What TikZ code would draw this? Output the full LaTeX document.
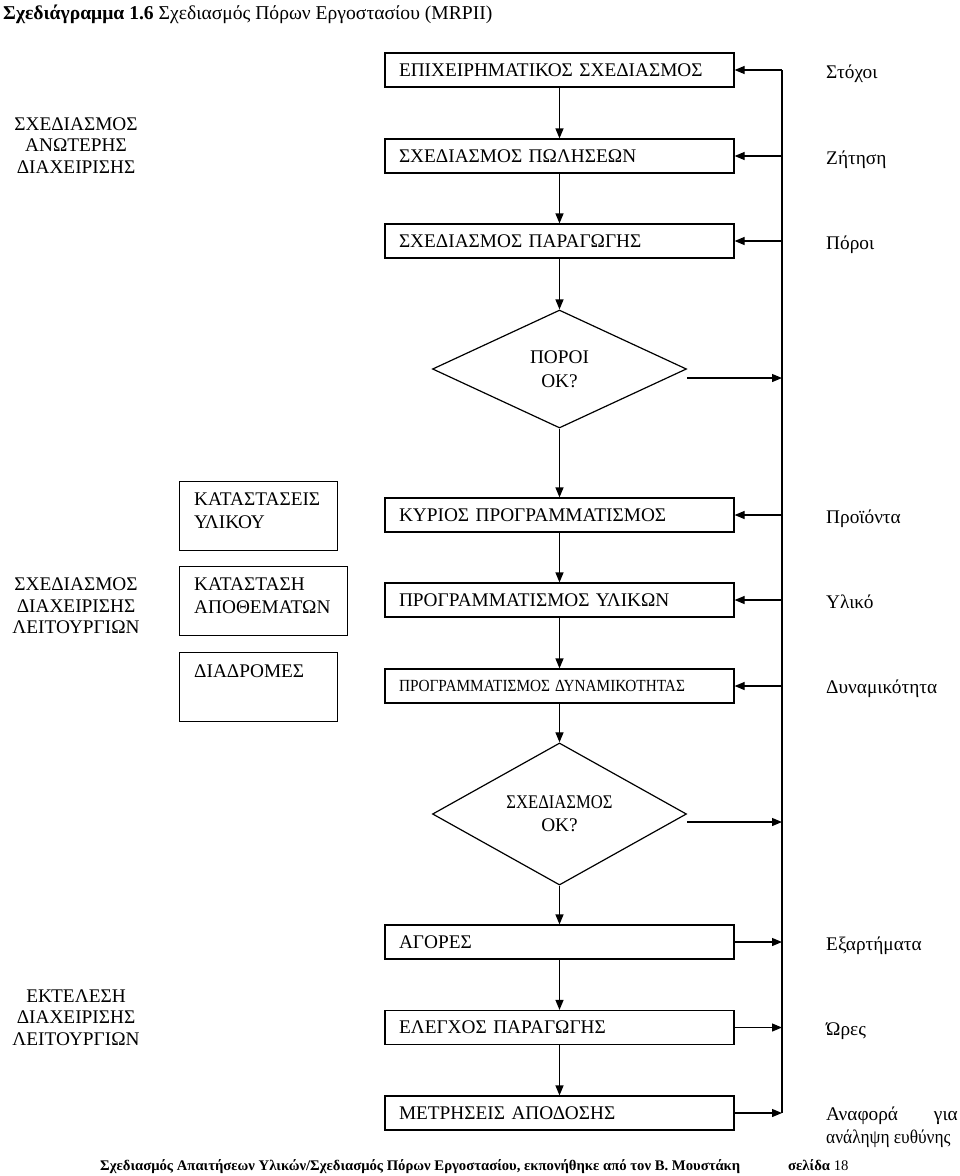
\documentclass[tikz,border=0pt]{standalone}
\usepackage{fontspec}
\usepackage{graphicx}
\setmainfont{Liberation Serif}
\usetikzlibrary{shapes.geometric,arrows.meta}
\tikzset{
 mainbox/.style={draw, line width=1.2pt, text width=321pt, inner xsep=14pt, inner ysep=0pt, minimum height=34pt, align=left, font=\fontsize{19.3}{22}\selectfont},
 sidebox/.style={draw, line width=1.2pt, minimum height=68.5pt, inner sep=0pt, anchor=north west},
 sidetext/.style={anchor=north west, align=left, inner sep=0pt, font=\fontsize{19.3}{23}\selectfont},
 decision/.style={draw, diamond, line width=1.2pt, minimum width=254pt, minimum height=118pt, inner sep=0pt, align=center, font=\fontsize{19.3}{24}\selectfont},
 lvl/.style={align=center, inner sep=0pt, font=\fontsize{19.3}{21.5}\selectfont},
 rlab/.style={anchor=base west, inner sep=0pt, font=\fontsize{19.3}{22}\selectfont},
 arr/.style={line width=1.2pt, -{Triangle[length=10pt,width=8pt]}},
 link/.style={line width=1.2pt},
}
\begin{document}
\begin{tikzpicture}[x=1pt,y=-1pt]
\useasboundingbox (0,0) rectangle (960,1176);

% title
\node[anchor=base west, inner sep=0pt, font=\fontsize{19.6}{22}\selectfont] (title) at (3,19)
  {\textbf{Σχεδιάγραμμα 1.6} Σχεδιασμός Πόρων Εργοστασίου (MRPII)};

% main column
\node[mainbox] (b1) at (559.5,70) {ΕΠΙΧΕΙΡΗΜΑΤΙΚΟΣ ΣΧΕΔΙΑΣΜΟΣ};
\node[mainbox] (b2) at (559.5,156) {ΣΧΕΔΙΑΣΜΟΣ ΠΩΛΗΣΕΩΝ};
\node[mainbox] (b3) at (559.5,241) {ΣΧΕΔΙΑΣΜΟΣ ΠΑΡΑΓΩΓΗΣ};
\node[decision] (d1) at (559.5,369) {ΠΟΡΟΙ\\ΟΚ?};
\node[mainbox] (k1) at (559.5,515) {ΚΥΡΙΟΣ ΠΡΟΓΡΑΜΜΑΤΙΣΜΟΣ};
\node[mainbox] (k2) at (559.5,600) {ΠΡΟΓΡΑΜΜΑΤΙΣΜΟΣ ΥΛΙΚΩΝ};
\node[mainbox, font=\fontsize{17}{20}\selectfont] (k3) at (559.5,686) {\scalebox{0.9}[1]{ΠΡΟΓΡΑΜΜΑΤΙΣΜΟΣ ΔΥΝΑΜΙΚΟΤΗΤΑΣ}};
\node[decision] (d2) at (559.5,814) {\scalebox{0.86}[1]{ΣΧΕΔΙΑΣΜΟΣ}\\[-1pt]ΟΚ?};
\node[mainbox] (a1) at (559.5,942) {ΑΓΟΡΕΣ};
\node[mainbox] (a2) at (559.5,1027.5) {ΕΛΕΓΧΟΣ ΠΑΡΑΓΩΓΗΣ};
\node[mainbox] (a3) at (559.5,1113) {ΜΕΤΡΗΣΕΙΣ ΑΠΟΔΟΣΗΣ};

% side boxes
\node[sidebox, minimum width=158pt] (s1) at (179,481) {};
\node[sidetext] (s1t) at (194,493) {ΚΑΤΑΣΤΑΣΕΙΣ\\ΥΛΙΚΟΥ};
\node[sidebox, minimum width=168pt] (s2) at (179,566) {};
\node[sidetext] (s2t) at (194,578) {ΚΑΤΑΣΤΑΣΗ\\ΑΠΟΘΕΜΑΤΩΝ};
\node[sidebox, minimum width=158pt] (s3) at (179,652) {};
\node[sidetext] (s3t) at (194,664.5) {ΔΙΑΔΡΟΜΕΣ};

% left level labels
\node[lvl] (l1) at (76,145.5) {ΣΧΕΔΙΑΣΜΟΣ\\ΑΝΩΤΕΡΗΣ\\ΔΙΑΧΕΙΡΙΣΗΣ};
\node[lvl] (l2) at (76,606) {ΣΧΕΔΙΑΣΜΟΣ\\ΔΙΑΧΕΙΡΙΣΗΣ\\ΛΕΙΤΟΥΡΓΙΩΝ};
\node[lvl] (l3) at (76,1017.5) {ΕΚΤΕΛΕΣΗ\\ΔΙΑΧΕΙΡΙΣΗΣ\\ΛΕΙΤΟΥΡΓΙΩΝ};

% right labels
\node[rlab] (r1) at (826,78) {Στόχοι};
\node[rlab] (r2) at (826,164) {Ζήτηση};
\node[rlab] (r3) at (826,249) {Πόροι};
\node[rlab] (r4) at (826,523) {Προϊόντα};
\node[rlab] (r5) at (826,608) {Υλικό};
\node[rlab] (r6) at (826,693) {Δυναμικότητα};
\node[rlab] (r7) at (826,950) {Εξαρτήματα};
\node[rlab] (r8) at (826,1035) {Ώρες};
\node[rlab] (r9a) at (826,1120) {Αναφορά};
\node[rlab, anchor=base east] (r9b) at (958,1120) {για};
\node[rlab] (r9c) at (826,1143) {\scalebox{0.9}[1]{ανάληψη ευθύνης}};

% feedback bus
\coordinate (bustop) at (782,70);
\coordinate (busbot) at (782,1113);
\draw[link] (bustop) -- (busbot);

% vertical flow
\draw[arr] (b1) -- (b2);
\draw[arr] (b2) -- (b3);
\draw[arr] (b3) -- (d1);
\draw[arr] (d1) -- (k1);
\draw[arr] (k1) -- (k2);
\draw[arr] (k2) -- (k3);
\draw[arr] (k3) -- (d2);
\draw[arr] (d2) -- (a1);
\draw[arr] (a1) -- (a2);
\draw[arr] (a2) -- (a3);

% bus to boxes
\foreach \n in {b1,b2,b3,k1,k2,k3}
  \draw[arr] (\n.east -| bustop) -- (\n.east);

% diamonds to bus
\draw[arr] ([yshift=-9pt]d1.east) -- ([yshift=-9pt]d1.east -| bustop);
\draw[arr] ([yshift=-8pt]d2.east) -- ([yshift=-8pt]d2.east -| bustop);

% bottom boxes to bus
\foreach \n in {a1,a2,a3}
  \draw[arr] (\n.east) -- (\n.east -| bustop);

% footer
\node[anchor=base west, inner sep=0pt, font=\fontsize{14.7}{16}\selectfont\bfseries] (foot) at (100,1170)
  {Σχεδιασμός Απαιτήσεων Υλικών/Σχεδιασμός Πόρων Εργοστασίου, εκπονήθηκε από τον Β. Μουστάκη};
\node[anchor=base west, inner sep=0pt, font=\fontsize{14.7}{16}\selectfont] (page) at (788,1170)
  {\textbf{σελίδα} 18};
\end{tikzpicture}
\end{document}
